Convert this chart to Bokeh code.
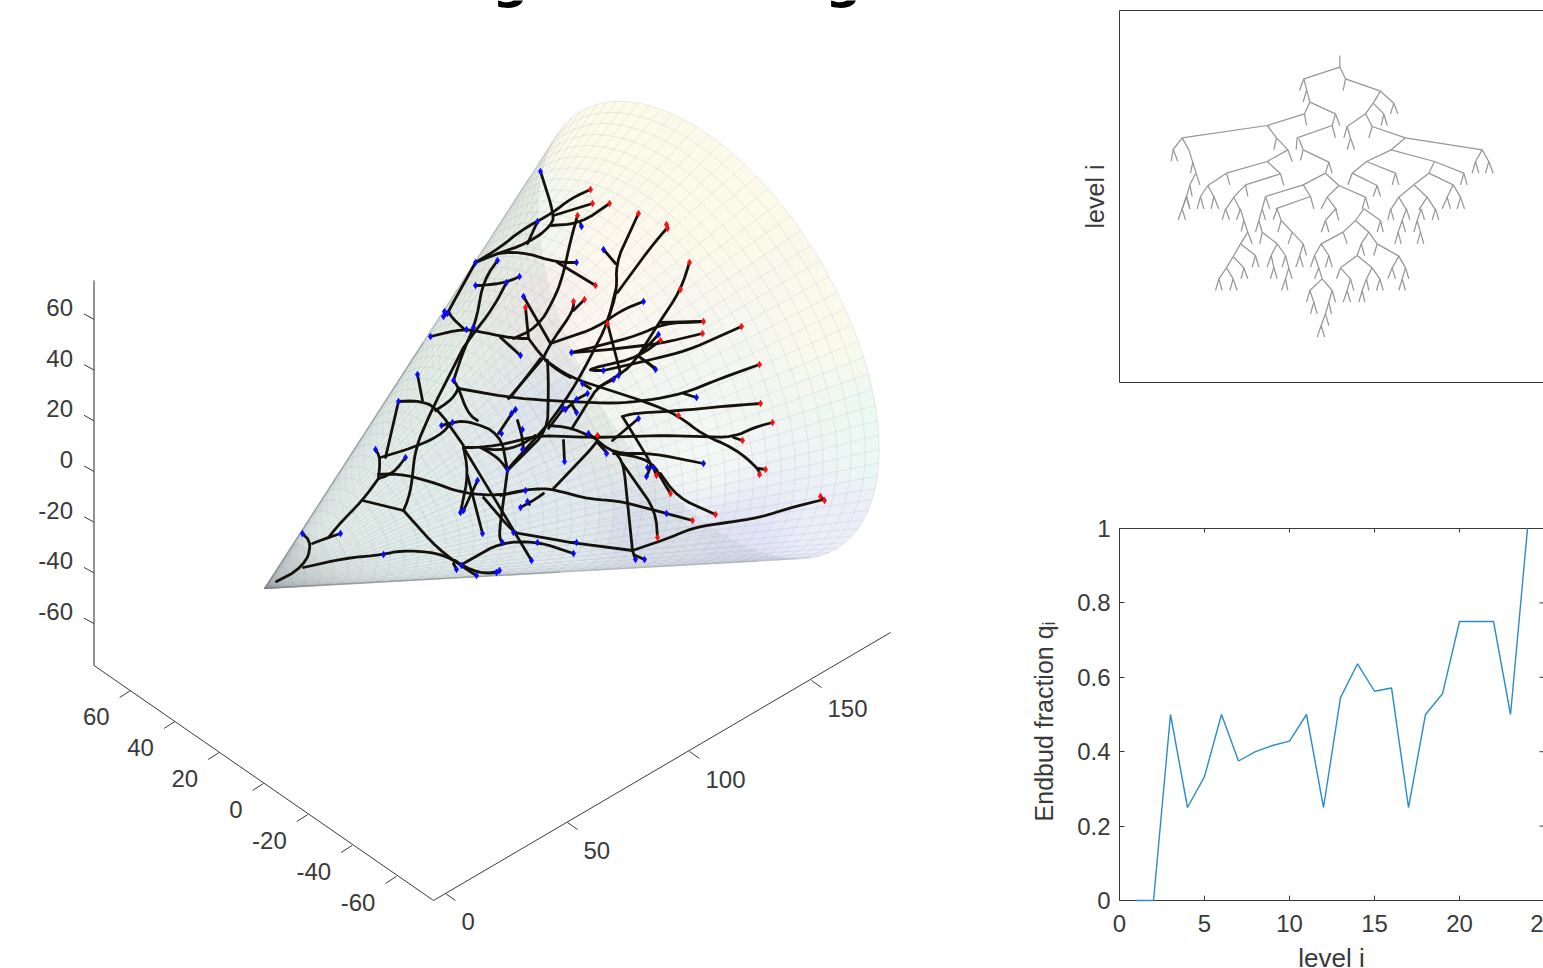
import numpy as np
from bokeh.core.properties import value
from bokeh.embed import file_html
from bokeh.layouts import column, row
from bokeh.models import FixedTicker, LinearAxis, Range1d
from bokeh.plotting import figure
from bokeh.resources import INLINE

# ---------- line panel data ----------
LEVELS = list(range(1, 25))
ENDBUD = [0, 0, .5, .25, .333, .5, .375, .4, .4167, .4286, .5, .25, .5455, .6364,
          .5625, .5714, .25, .5, .5556, .75, .75, .75, .5, 1]
LEVEL_TICKS = [0, 5, 10, 15, 20]
FRACTION_TICKS = [0, .2, .4, .6, .8, 1]

# ---------- 3D axes (tick values and read-off projection) ----------
X3_TICKS = [0, 50, 100, 150]
Y3_TICKS = [60, 40, 20, 0, -20, -40, -60]
Z3_TICKS = [60, 40, 20, 0, -20, -40, -60]
AX_X = (2.44, -1.42)     # screen pixels per x unit
AX_Y = (-2.215, -1.55)   # per y unit
AX_Z = (0.0, -2.535)     # per z unit
APEX = (264.0, 588.0)
CONE_LEN = 182.0
CONE_RAD = 77.0
COLOR_ANCHORS = [
    (264, 588, 212, 220, 216), (340, 510, 240, 249, 245), (450, 360, 240, 249, 242),
    (530, 220, 242, 248, 238), (600, 125, 253, 251, 233), (720, 200, 253, 251, 232),
    (830, 320, 250, 251, 235), (875, 440, 236, 249, 243), (840, 530, 236, 238, 250),
    (740, 545, 226, 228, 246), (650, 440, 240, 245, 242), (700, 450, 245, 249, 245),
    (600, 330, 252, 248, 238), (620, 250, 253, 250, 236), (555, 310, 248, 240, 238),
    (553, 403, 232, 236, 246), (520, 450, 238, 244, 248), (560, 525, 238, 246, 250),
    (440, 520, 238, 248, 247), (640, 525, 228, 232, 246), (610, 400, 244, 247, 238),
]

# ---------- branching tree on the cone (screen read-off) ----------
BRANCHES_LOW = [
    [(276,581),(303,567),(312,543),(302,533)], [(312,543),(328,537),(340,533)],
    [(328,537),(340,522),(362,500),(378,478)], [(378,478),(380,457),(375,449)],
    [(380,457),(413,447),(440,435),(450,423),(452,422)], [(450,423),(441,425)],
    [(378,478),(393,473),(405,457)],
    [(378,474),(398,473),(427,480),(463,493),(500,495),(525,490)],
    [(500,495),(520,490),(540,488),(553,489),(590,499),(617,500),(666,513),(692,520)],
    [(362,500),(403,510)], [(403,510),(410,493),(415,447),(432,408),(463,347)],
    [(403,510),(437,548),(463,567),(476,575)],
    [(303,567),(343,558),(383,554),(400,550),(437,552),(457,562),(478,573),(497,572)],
    [(453,563),(456,569)], [(455,560),(461,565)], [(492,572),(499,570)],
    [(463,563),(500,542),(537,541),(573,553)],
    [(483,497),(513,532),(520,533),(570,542),(632,550)], [(570,542),(576,542)],
    [(463,447),(468,473),(460,512)], [(477,480),(463,510)], [(467,475),(482,533)],
    [(463,447),(503,513),(531,560)], [(507,470),(498,537),(502,542)],
    [(463,447),(480,447),(508,443),(535,435),(595,437),(663,435),(733,437),(753,427),(772,422)],
    [(480,447),(493,450),(517,447),(535,435)], [(733,437),(742,440)],
    [(480,447),(498,457),(507,470)], [(507,470),(547,430),(548,383),(547,360)],
    [(398,401),(420,400),(437,408),(463,445)], [(398,401),(385,457)], [(417,374),(422,400)],
    [(441,425),(452,422),(467,420),(500,433),(507,470)],
    [(453,380),(458,387),(467,413),(477,420)],
    [(435,410),(453,398),(458,387)],
    [(458,388),(510,397),(547,400),(613,403),(647,400),(683,393),(720,378),(759,364)],
    [(683,393),(696,397)], [(510,397),(540,358)], [(498,433),(512,412),(515,409)],
    [(517,420),(522,437),(523,449)], [(563,440),(564,461)], [(563,408),(548,428)],
    [(520,507),(533,500),(543,493)], [(527,501),(529,504)], [(553,488),(592,447),(597,440)],
]
BRANCHES_MID = [
    [(545,360),(570,377),(647,402),(678,415),(703,435),(733,447),(758,468),(759,474)],
    [(758,468),(765,469)], [(760,403),(733,405),(680,410),(632,413),(622,416)],
    [(597,440),(613,453),(653,453),(703,463)], [(597,442),(607,453)],
    [(613,453),(633,455),(653,463),(660,477),(670,493)],
    [(622,416),(653,467),(647,467)], [(650,467),(646,476)], [(654,470),(656,475)],
    [(617,455),(623,463),(632,550)], [(622,463),(655,510),(657,537)],
    [(660,473),(677,497),(715,514)],
    [(632,550),(670,537),(693,527),(720,523),(760,517),(787,508),(823,499)],
    [(820,496),(824,500)], [(632,550),(635,559)], [(635,555),(644,559)],
    [(548,425),(572,427),(597,440),(598,435)], [(588,433),(597,440)], [(612,440),(638,418)],
    [(572,427),(590,398),(597,387),(618,375),(633,363),(660,320),(680,290),(689,262)],
    [(660,322),(703,321)], [(702,333),(660,343),(600,350),(571,352)],
    [(660,340),(637,357),(583,370),(603,370)], [(637,355),(655,368)], [(643,350),(658,334)],
    [(741,326),(687,350),(647,360),(603,370)], [(647,362),(655,369)],
    [(703,321),(663,323),(637,335),(592,347),(571,352)], [(607,323),(620,373)],
    [(615,290),(607,323),(583,370),(565,400),(548,423)],
    [(576,399),(587,393)], [(565,409),(576,399)], [(576,412),(572,405)], [(582,383),(590,388)],
    [(613,379),(597,387)],
]
BRANCHES_UP = [
    [(550,343),(597,327),(620,310),(643,301)], [(543,357),(550,343),(573,310),(573,301)],
    [(573,310),(584,299)], [(523,296),(550,343)], [(525,307),(528,338)],
    [(528,338),(543,358),(557,370),(570,377)],
    [(430,336),(463,328),(483,332),(513,338),(528,338)], [(500,337),(520,355)],
    [(513,338),(537,327),(553,300),(562,277),(570,240),(577,215)],
    [(543,357),(508,398)], [(548,423),(507,469)],
    [(540,171),(553,212),(552,225),(527,243),(497,253),(475,262)],
    [(590,189),(570,198),(553,212),(520,230),(500,247),(475,262)], [(592,203),(553,215)],
    [(609,203),(580,223),(550,225)], [(580,223),(581,226)], [(537,221),(527,243)],
    [(475,262),(450,307),(447,313),(463,328)], [(447,313),(443,316)], [(447,313),(444,311)],
    [(497,253),(520,251),(557,262),(576,262)], [(557,262),(595,285)],
    [(497,260),(483,280),(475,323),(463,350),(453,380)],
    [(475,285),(482,285),(506,282),(519,276)], [(506,282),(493,307),(473,333),(463,347)],
    [(638,213),(615,263),(617,290),(607,320)], [(603,249),(615,263)],
    [(667,227),(650,247),(617,292)], [(666,224),(667,227)],
]
BLUE_TIPS = [
    (540,171),(537,221),(581,226),(475,262),(497,260),(475,285),(506,282),(519,276),(444,311),
    (447,313),(443,316),(466,329),(473,327),(430,336),(523,296),(576,262),(603,249),(520,355),
    (417,374),(398,401),(453,380),(515,409),(511,413),(441,425),(452,422),(375,449),(405,457),
    (501,433),(522,429),(522,449),(507,469),(563,408),(525,490),(564,461),(477,480),(460,512),
    (463,510),(520,507),(527,501),(482,533),(513,532),(502,542),(537,542),(576,542),(531,560),
    (573,553),(302,533),(340,533),(383,554),(456,569),(461,565),(476,575),(496,572),(499,570),
    (643,301),(658,334),(571,352),(603,370),(655,369),(582,383),(613,379),(618,375),(587,393),
    (576,399),(565,409),(576,412),(606,453),(638,418),(588,433),(696,397),(703,463),(647,467),
    (653,467),(646,476),(666,513),(635,559),(644,559),
]
RED_TIPS = [
    (590,189),(592,203),(609,203),(577,215),(595,285),(638,213),(666,224),(667,228),(689,262),
    (680,289),(573,301),(584,299),(525,307),(607,323),(703,321),(702,333),(660,340),(741,326),
    (759,364),(760,403),(772,422),(742,440),(678,415),(597,435),(759,474),(765,469),(656,475),
    (670,493),(715,514),(692,520),(657,537),(820,496),(824,500),
]

TREE_UPPER = [
 (568,15,568,50),(568,50,460,85),(568,50,585,85),(585,85,690,122),(585,85,578,120),(460,85,447,120),
 (460,85,478,155),(468,120,458,155),(478,155,462,190),(478,155,555,190),(462,190,350,225),(462,190,468,225),
 (555,190,545,225),(555,190,568,225),(545,225,440,262),(545,225,555,262),(440,262,437,297),(445,265,458,298),
 (458,298,450,330),(458,298,535,335),(535,335,525,368),(535,335,545,368),(525,368,458,403),(525,368,565,405),
 (458,403,345,438),(458,403,480,438),(480,438,375,475),(480,438,490,475),(345,438,335,475),(345,438,358,475),
 (565,405,530,440),(530,440,512,475),(530,440,560,480),(565,405,645,440),(645,440,635,475),(645,440,655,475),
 (350,225,95,262),(350,225,378,262),(378,262,370,297),(378,262,412,298),(412,298,350,333),(412,298,425,333),
 (350,333,228,368),(350,333,390,370),(228,368,172,405),(228,368,238,403),(172,405,150,438),(172,405,190,438),
 (190,438,182,475),(190,438,205,475),(150,438,140,475),(150,438,160,475),(390,370,285,403),(390,370,400,405),
 (285,403,250,440),(250,440,225,478),(285,403,292,438),(250,440,270,480),(95,262,68,297),(95,262,115,298),
 (68,297,62,332),(68,297,82,332),(115,298,148,403),(127,335,120,368),(135,370,118,403),(118,403,108,438),
 (118,403,125,438),(108,438,95,475),(108,438,118,475),(690,122,668,158),(690,122,730,158),(730,158,720,190),
 (730,158,742,190),(668,158,645,190),(668,158,700,190),(700,190,692,225),(700,190,710,225),(645,190,590,228),
 (645,190,665,228),(590,228,580,262),(590,228,600,262),(600,262,590,297),(600,262,612,297),(665,228,655,262),
 (665,228,765,262),(765,262,722,298),(765,262,995,298),(995,298,975,333),(995,298,1015,333),(975,333,965,368),
 (975,333,985,368),(1015,333,1005,368),(1015,333,1028,368),(722,298,648,333),(722,298,852,333),(648,333,605,368),
 (648,333,735,368),(605,368,592,403),(605,368,680,405),(680,405,668,438),(680,405,690,438),(735,368,725,403),
 (735,368,745,403),(852,333,835,368),(852,333,940,368),(940,368,930,403),(940,368,950,403),(835,368,790,403),
 (835,368,908,403),(790,403,745,440),(790,403,830,440),(745,440,720,478),(745,440,768,478),(830,440,805,478),
 (830,440,855,478),(908,403,890,440),(908,403,930,440),(890,440,875,475),(890,440,900,475),(930,440,920,475),
 (930,440,942,475),
]
TREE_LOWER = [
 (108,18,95,55),(95,55,83,88),(95,55,105,88),(108,18,118,55),(225,55,215,88),(225,55,237,88),(270,55,258,88),
 (270,55,280,90),(280,90,272,123),(280,90,292,125),(292,125,270,160),(292,125,305,160),(270,160,248,198),
 (270,160,315,195),(315,195,305,230),(315,195,325,230),(248,198,228,232),(248,198,280,232),(280,232,272,265),
 (280,232,292,265),(228,232,205,265),(228,232,248,265),(205,265,195,300),(205,265,215,300),(248,265,238,300),
 (248,265,260,300),(335,55,325,90),(325,90,315,125),(325,90,335,125),(335,125,328,160),(335,125,380,160),
 (335,55,345,88),(380,160,362,195),(380,160,405,195),(362,195,350,230),(362,195,370,230),(370,230,360,265),
 (370,230,380,265),(405,195,395,230),(405,195,415,232),(415,232,405,265),(405,265,393,300),(405,265,412,300),
 (415,232,425,265),(380,55,368,88),(380,55,392,90),(392,90,382,125),(392,90,425,125),(425,125,413,160),
 (425,125,458,160),(458,160,448,195),(448,195,436,230),(448,195,458,230),(458,160,468,195),
 (555,55,525,90),(555,55,565,90),(525,90,512,125),(525,90,535,125),(640,55,615,90),(615,90,578,125),
 (578,125,512,160),(615,90,655,125),(640,55,690,90),(690,90,680,125),(690,90,698,125),(578,125,590,160),
 (655,125,632,160),(655,125,680,160),(680,160,670,195),(680,160,745,197),(632,160,620,195),(632,160,642,195),
 (620,195,570,232),(620,195,665,232),(570,232,558,265),(570,232,600,265),(600,265,590,300),(590,300,578,335),
 (590,300,600,335),(600,265,610,300),(665,232,648,265),(648,265,635,300),(635,300,625,335),(635,300,643,335),
 (648,265,655,300),(665,232,688,265),(688,265,678,300),(688,265,698,300),(745,197,725,232),(745,197,765,232),
 (765,232,755,265),(755,265,745,300),(755,265,765,300),(765,232,775,265),(725,232,712,265),(725,232,735,265),
 (512,160,492,195),(492,195,480,230),(492,195,505,232),(505,232,492,265),(505,232,515,265),(512,160,535,195),
 (535,195,525,230),(535,195,545,230),(515,265,478,300),(478,300,468,335),(478,300,490,335),(490,335,480,370),
 (490,335,500,370),(515,265,545,300),(545,300,555,335),(545,300,535,335),(535,335,543,370),(535,335,525,370),
 (525,370,512,405),(512,405,500,440),(512,405,522,440),(525,370,535,405),(720,55,712,88),(720,55,730,88),
 (768,55,755,90),(755,90,743,125),(743,125,733,160),(743,125,752,160),(755,90,765,125),(768,55,778,88),
 (812,55,800,90),(800,90,790,125),(800,90,810,125),(810,125,800,160),(810,125,820,160),(812,55,822,88),
 (855,55,845,88),(855,55,865,88),
]

FONT = "Liberation Sans"
INK = "#3a3a3a"
LEFT_W = 1000
TOTAL_W, TOTAL_H = 1543, 968


def project(x, y, z):
    return (APEX[0] + x * AX_X[0] + y * AX_Y[0] + z * AX_Z[0],
            APEX[1] + x * AX_X[1] + y * AX_Y[1] + z * AX_Z[1])


def cone(s, th):
    return project(CONE_LEN * s, CONE_RAD * s * np.cos(th), CONE_RAD * s * np.sin(th))


def shade(sx, sy):
    a = np.array(COLOR_ANCHORS, dtype=float)
    d = np.hypot(a[:, 0] - sx, a[:, 1] - sy) + 1.0
    w = d ** -3
    c = (a[:, 2:] * w[:, None]).sum(axis=0) / w.sum()
    return "#%02x%02x%02x" % tuple(int(v) for v in c)


def round_corners(pts, cuts=(9.0, 4.0)):
    """Take the sharp edge off a traced branch's corners, keeping its end points."""
    p = np.array(pts, dtype=float)
    for cut in cuts:
        if len(p) < 3:
            break
        q = [p[0]]
        for k in range(1, len(p) - 1):
            for other in (p[k - 1], p[k + 1]):
                step = other - p[k]
                size = np.hypot(*step)
                q.append(p[k] + step * min(0.3, cut / max(size, 1e-6)))
        q.append(p[-1])
        p = np.array(q)
    return p


main = figure(width=LEFT_W, height=TOTAL_H, x_range=Range1d(0, LEFT_W), y_range=Range1d(TOTAL_H, 0),
              output_backend="svg", toolbar_location=None, min_border=0, outline_line_color=None)
main.axis.visible = False
main.grid.visible = False

# cone surface
N_TH, N_S = 88, 44
ths = np.linspace(0, 2 * np.pi, N_TH + 1)
ss = np.linspace(0, 1, N_S + 1)
signs = []
for i in range(N_TH):
    x1, y1 = cone(1.0, ths[i]); x2, y2 = cone(1.0, ths[i + 1]); x0, y0 = APEX
    signs.append(np.sign((x1 - x0) * (y2 - y0) - (x2 - x0) * (y1 - y0)))
signs = np.array(signs)
near_sign = signs[0]
far_idx = [i for i in range(N_TH) if signs[i] != near_sign]
near_idx = [i for i in range(N_TH) if signs[i] == near_sign]

qx, qy, qc = [], [], []
for i in far_idx:
    for j in range(N_S):
        a = cone(ss[j], ths[i]); b = cone(ss[j + 1], ths[i])
        c = cone(ss[j + 1], ths[i + 1]); d = cone(ss[j], ths[i + 1])
        qx.append([a[0], b[0], c[0], d[0]]); qy.append([a[1], b[1], c[1], d[1]])
        qc.append(shade((a[0] + c[0]) / 2, (a[1] + c[1]) / 2))
main.patches(qx, qy, fill_color=qc, line_color=qc, line_width=0.6)

order = sorted(near_idx, key=lambda k: (k + N_TH // 2) % N_TH)
vx = [APEX[0]] + [cone(1.0, ths[k])[0] for k in order]
vy = [APEX[1]] + [cone(1.0, ths[k])[1] for k in order]
main.patch(vx, vy, fill_color="#90a8a4", fill_alpha=0.13, line_color=None)


def mesh(indices, color, alpha):
    xs, ys = [], []
    for i in indices:
        x, y = cone(ss, np.full_like(ss, ths[i]))
        xs.append(list(x)); ys.append(list(y))
    idx = order if indices is near_idx else sorted(indices)
    for j in range(1, N_S + 1):
        t = np.array([ths[i] for i in idx] + [ths[idx[-1]] + ths[1]])
        x, y = cone(np.full_like(t, ss[j]), t)
        xs.append(list(x)); ys.append(list(y))
    main.multi_line(xs, ys, line_color=color, line_alpha=alpha, line_width=0.6)


mesh(far_idx, "#7f7fa0", 0.24)
mesh(near_idx, "#86908c", 0.16)

# darker rims where the mesh folds over at the cone's two outlines
for k in (1, len(vx) - 1):
    for frac, alpha in ((0.55, 0.45), (0.92, 0.22)):
        main.line([APEX[0], APEX[0] + frac * (vx[k] - APEX[0])], [APEX[1], APEX[1] + frac * (vy[k] - APEX[1])],
                  line_color="#7c827f", line_alpha=alpha, line_width=1.3)

# branches
for group in (BRANCHES_LOW, BRANCHES_MID, BRANCHES_UP):
    smooth = [round_corners(b) for b in group]
    main.multi_line([list(b[:, 0]) for b in smooth], [list(b[:, 1]) for b in smooth],
                    line_color="#15120c", line_width=2.8, line_join="round", line_cap="round")
main.scatter([p[0] for p in BLUE_TIPS], [p[1] for p in BLUE_TIPS], marker="diamond", size=7.5,
             fill_color="#0a0aff", line_color=None)
main.scatter([p[0] for p in RED_TIPS], [p[1] for p in RED_TIPS], marker="diamond", size=7.5,
             fill_color="#ff1010", line_color=None)

# hand-built 3D axes
X0 = (445.0, 893.0); Y0 = (263.0, 783.0); Z0 = (93.5, 471.0)
main.line([93.5, 93.5], [280, 665], line_color=INK, line_width=1.1)
main.line([93.5, 433], [665, 900], line_color=INK, line_width=1.0)
main.line([433, 890], [900, 632], line_color=INK, line_width=1.0)


def ticks(vals, origin, step, tick, label, align):
    px = [origin[0] + v * step[0] for v in vals]
    py = [origin[1] + v * step[1] for v in vals]
    main.segment(px, py, [a + tick[0] for a in px], [b + tick[1] for b in py], line_color=INK, line_width=1.0)
    main.text([a + label[0] for a in px], [b + label[1] for b in py], text=[str(v) for v in vals],
              text_font=value(FONT), text_font_size="24px", text_color=INK,
              text_align=align, text_baseline="middle")


ticks(X3_TICKS, X0, AX_X, (10, 7), (16, 28), "left")
ticks(Y3_TICKS, Y0, AX_Y, (-11, 7), (-21, 26), "right")
ticks(Z3_TICKS, Z0, AX_Z, (-10, -5.5), (-21, -12), "right")

# the clipped heading: only the descenders of its two g letters reach the page
main.text([510, 843], [-20, -20], text=["g", "g"], text_font=value("DejaVu Sans"), text_font_style="bold",
          text_font_size="50px", text_color="#000000", text_align="center", text_baseline="alphabetic")

# tree panel
NO_TICKS = FixedTicker(ticks=[])
tree = figure(width=TOTAL_W - LEFT_W, height=440, x_range=Range1d(1119, 1543), y_range=Range1d(382, 10),
              output_backend="svg", toolbar_location=None, min_border_left=119, min_border_right=0,
              min_border_top=10, min_border_bottom=58, outline_line_color=None)
tree.grid.visible = False
for ax in (tree.xaxis[0], tree.yaxis[0]):
    ax.ticker = NO_TICKS
    ax.axis_line_color = INK
tree.yaxis.axis_label = "level i"
tree.yaxis.axis_label_text_font = FONT
tree.yaxis.axis_label_text_font_style = "normal"
tree.yaxis.axis_label_text_font_size = "25px"
tree.yaxis.axis_label_text_color = INK
tree.yaxis.axis_label_standoff = 11
tree.add_layout(LinearAxis(ticker=NO_TICKS, axis_line_color=INK), "above")
for seg_list, oy in ((TREE_UPPER, 50), (TREE_LOWER, 190)):
    a = np.array(seg_list, dtype=float)
    tree.segment(1150 + a[:, 0] / 3, oy + a[:, 1] / 3, 1150 + a[:, 2] / 3, oy + a[:, 3] / 3,
                 line_color="#969696", line_width=1.25)

# line panel
X_END = 24.94
CUT_TICK = 24.69   # where the page edge leaves only the "2" of the level-25 label
line = figure(width=TOTAL_W - LEFT_W, height=TOTAL_H - 440 + 7, x_range=Range1d(0, X_END), y_range=Range1d(0, 1),
              output_backend="svg", toolbar_location=None, min_border_left=119, min_border_right=0,
              min_border_top=88, min_border_bottom=75, outline_line_color=None)
line.grid.visible = False
line.line(LEVELS, ENDBUD, line_color="#2a8ccc", line_width=1.4, level="overlay")
line.xaxis.ticker = FixedTicker(ticks=LEVEL_TICKS + [CUT_TICK])
line.xaxis.major_label_overrides = {CUT_TICK: "2"}
line.yaxis.ticker = FixedTicker(ticks=FRACTION_TICKS)
line.yaxis.major_label_overrides = {0: "0", 1: "1", 0.2: "0.2", 0.4: "0.4", 0.6: "0.6", 0.8: "0.8"}
for ax in (line.xaxis[0], line.yaxis[0]):
    ax.minor_tick_line_color = None
    ax.major_tick_in = 5
    ax.major_tick_out = 0
    ax.major_tick_line_color = INK
    ax.axis_line_color = INK
    ax.major_label_text_font = FONT
    ax.major_label_text_font_size = "24px"
    ax.major_label_text_color = INK
    ax.axis_label_text_font = FONT
    ax.axis_label_text_font_style = "normal"
    ax.axis_label_text_color = INK
line.xaxis.major_tick_line_color = None
line.xaxis.major_label_standoff = 14
line.xaxis.axis_label = "level i"
line.xaxis.axis_label_text_font_size = "26px"
line.xaxis.axis_label_standoff = 8
line.yaxis.major_label_standoff = 9
line.yaxis.axis_label = "Endbud fraction qᵢ  "
line.yaxis.axis_label_text_font_size = "25px"
line.yaxis.axis_label_standoff = 16
line.add_layout(LinearAxis(ticker=NO_TICKS, axis_line_color=INK), "above")
# inward ticks on the other sides, as on a MATLAB box
tick_x = 4 * X_END / 424
tick_y = 4 / 372
line.segment(LEVEL_TICKS[1:], [1] * 4, LEVEL_TICKS[1:], [1 - tick_y] * 4, line_color=INK, line_width=1)
line.segment(LEVEL_TICKS[1:], [0] * 4, LEVEL_TICKS[1:], [tick_y * 1.2] * 4, line_color=INK, line_width=1)
line.segment([X_END - tick_x] * 4, FRACTION_TICKS[1:5], [X_END] * 4, FRACTION_TICKS[1:5], line_color=INK, line_width=1)

page = row(main, column(tree, line, spacing=0), spacing=0,
           styles={"position": "absolute", "left": "0px", "top": "0px"})
open("out.html", "w").write(file_html(page, INLINE))
